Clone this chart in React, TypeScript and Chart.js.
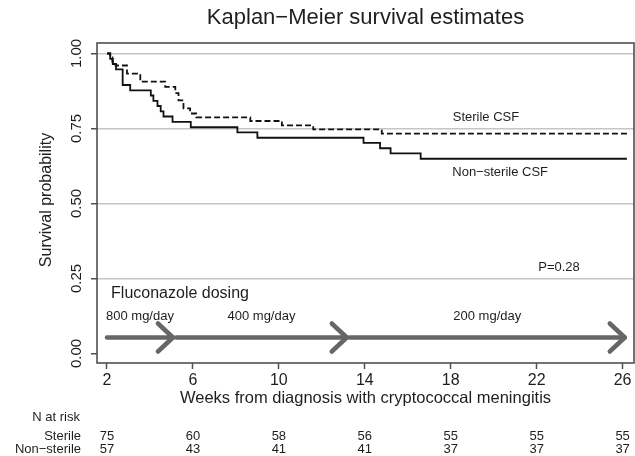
import React, { useEffect, useRef } from "react";
import { Chart, registerables } from "chart.js";

Chart.register(...registerables);

const TITLE = "Kaplan\u2212Meier survival estimates";
const X_TITLE = "Weeks from diagnosis with cryptococcal meningitis";
const Y_TITLE = "Survival probability";

const xTickValues = [2, 6, 10, 14, 18, 22, 26];
const xTickLabels = ["2", "6", "10", "14", "18", "22", "26"];
const yTickValues = [0, 0.25, 0.5, 0.75, 1];
const yTickLabels = ["0.00", "0.25", "0.50", "0.75", "1.00"];

// Sterile CSF (dashed)
const sterileWeeks = [2, 2.15, 2.25, 2.4, 2.93, 3.55, 4.71, 5.18, 5.33, 5.56, 5.87, 6.15, 8.67, 10.14, 11.6, 14.79, 26.2];
const sterileSurv = [1, 0.987, 0.973, 0.96, 0.933, 0.906, 0.889, 0.868, 0.844, 0.817, 0.8, 0.787, 0.775, 0.76, 0.747, 0.733, 0.733];

// Non-sterile CSF (solid)
const nonSterileWeeks = [2, 2.15, 2.27, 2.42, 2.73, 3.08, 4.04, 4.16, 4.35, 4.5, 4.63, 5.05, 5.9, 8.07, 9.0, 13.94, 14.71, 15.2, 16.6, 26.2];
const nonSterileSurv = [1, 0.982, 0.965, 0.947, 0.895, 0.877, 0.86, 0.842, 0.825, 0.807, 0.79, 0.772, 0.754, 0.737, 0.719, 0.702, 0.684, 0.667, 0.649, 0.649];

// Fluconazole dosing arrows
const doseStarts = [2, 5.22, 13.3];
const doseEnds = [5.07, 13.16, 26.1];
const doseLabels = ["800 mg/day", "400 mg/day", "200 mg/day"];
const doseLevel = 0.053;
const doseLabelLevel = 0.122;

// N at risk
const riskWeeks = [2, 6, 10, 14, 18, 22, 26];
const sterileAtRisk = [75, 60, 58, 56, 55, 55, 55];
const nonSterileAtRisk = [57, 43, 41, 41, 37, 37, 37];

const FONT = "'Liberation Sans', Arial, Helvetica, sans-serif";
const TEXT = "#1e1e1e";

const decor = {
  id: "kmDecor",
  afterDraw(chart: any) {
    const { ctx, chartArea: ca } = chart;
    const x = chart.scales.x;
    const y = chart.scales.y;
    ctx.save();

    // frame
    ctx.strokeStyle = "#505050";
    ctx.lineWidth = 1.6;
    ctx.strokeRect(ca.left, ca.top, ca.right - ca.left, ca.bottom - ca.top);

    ctx.fillStyle = TEXT;
    ctx.textBaseline = "middle";

    // title
    ctx.font = `22px ${FONT}`;
    ctx.textAlign = "center";
    ctx.fillText(TITLE, (ca.left + ca.right) / 2, 18);

    // x tick labels
    ctx.font = `16px ${FONT}`;
    xTickValues.forEach((v, i) => {
      ctx.fillText(xTickLabels[i], x.getPixelForValue(v), ca.bottom + 18);
    });

    // x title
    ctx.font = `16.5px ${FONT}`;
    ctx.fillText(X_TITLE, (ca.left + ca.right) / 2, ca.bottom + 35);

    // y tick labels (rotated)
    ctx.font = `15px ${FONT}`;
    yTickValues.forEach((v, i) => {
      ctx.save();
      ctx.translate(ca.left - 20, y.getPixelForValue(v));
      ctx.rotate(-Math.PI / 2);
      ctx.fillText(yTickLabels[i], 0, 0);
      ctx.restore();
    });

    // y title
    ctx.save();
    ctx.font = `16px ${FONT}`;
    ctx.translate(ca.left - 50, (ca.top + ca.bottom) / 2 - 3);
    ctx.rotate(-Math.PI / 2);
    ctx.fillText(Y_TITLE, 0, 0);
    ctx.restore();

    // curve labels
    ctx.font = `13px ${FONT}`;
    ctx.fillText("Sterile CSF", x.getPixelForValue(19.64), y.getPixelForValue(0.788));
    ctx.fillText("Non\u2212sterile CSF", x.getPixelForValue(20.3), y.getPixelForValue(0.604));
    ctx.fillText("P=0.28", x.getPixelForValue(23.04), y.getPixelForValue(0.288));

    // dosing
    ctx.font = `16px ${FONT}`;
    ctx.textAlign = "left";
    ctx.fillText("Fluconazole dosing", x.getPixelForValue(2.19), y.getPixelForValue(0.198));

    ctx.font = `13px ${FONT}`;
    ctx.textAlign = "center";
    doseLabels.forEach((lab, i) => {
      const cx = (x.getPixelForValue(doseStarts[i]) + x.getPixelForValue(doseEnds[i])) / 2;
      ctx.fillText(lab, cx, y.getPixelForValue(doseLabelLevel));
    });

    ctx.strokeStyle = "#666666";
    ctx.lineWidth = 4.5;
    ctx.lineCap = "round";
    ctx.lineJoin = "round";
    const py = y.getPixelForValue(doseLevel);
    doseStarts.forEach((s, i) => {
      const x0 = x.getPixelForValue(s);
      const x1 = x.getPixelForValue(doseEnds[i]);
      ctx.beginPath();
      ctx.moveTo(x0, py);
      ctx.lineTo(x1, py);
      ctx.stroke();
      ctx.beginPath();
      ctx.moveTo(x1 - 15, py - 14);
      ctx.lineTo(x1, py);
      ctx.lineTo(x1 - 15, py + 14);
      ctx.stroke();
    });

    // N at risk table
    ctx.fillStyle = TEXT;
    ctx.font = `13px ${FONT}`;
    ctx.textAlign = "right";
    ctx.fillText("N at risk", 80, 417);
    ctx.fillText("Sterile", 81, 436);
    ctx.fillText("Non\u2212sterile", 81, 449);
    ctx.textAlign = "center";
    riskWeeks.forEach((w, i) => {
      const px = x.getPixelForValue(w);
      ctx.fillText(String(sterileAtRisk[i]), px, 436);
      ctx.fillText(String(nonSterileAtRisk[i]), px, 449);
    });

    ctx.restore();
  },
};

export default function App() {
  const ref = useRef<HTMLCanvasElement | null>(null);

  useEffect(() => {
    if (!ref.current) return;
    const chart = new Chart(ref.current, {
      type: "line",
      data: {
        datasets: [
          {
            label: "Sterile CSF",
            data: sterileWeeks.map((w, i) => ({ x: w, y: sterileSurv[i] })),
            borderColor: "#111111",
            borderWidth: 1.8,
            borderDash: [6, 3],
            stepped: "before",
            pointRadius: 0,
            fill: false,
          },
          {
            label: "Non-sterile CSF",
            data: nonSterileWeeks.map((w, i) => ({ x: w, y: nonSterileSurv[i] })),
            borderColor: "#111111",
            borderWidth: 1.8,
            stepped: "before",
            pointRadius: 0,
            fill: false,
          },
        ],
      },
      plugins: [decor],
      options: {
        animation: false,
        responsive: false,
        devicePixelRatio: 1,
        layout: { padding: { top: 43, right: 1, left: 0, bottom: 0 } },
        plugins: { legend: { display: false }, tooltip: { enabled: false }, title: { display: false } },
        scales: {
          x: {
            type: "linear",
            min: 1.535,
            max: 26.53,
            afterBuildTicks: (s: any) => {
              s.ticks = xTickValues.map((v) => ({ value: v }));
            },
            afterFit: (s: any) => {
              s.height = 93;
              s.paddingLeft = 0;
              s.paddingRight = 0;
            },
            ticks: { display: false },
            border: { display: false },
            grid: {
              drawOnChartArea: false,
              drawTicks: true,
              tickLength: 6,
              tickColor: "#505050",
              tickWidth: 1.5,
            },
          },
          y: {
            type: "linear",
            min: -0.032,
            max: 1.035,
            afterBuildTicks: (s: any) => {
              s.ticks = yTickValues.map((v) => ({ value: v }));
            },
            afterFit: (s: any) => {
              s.width = 97;
              s.paddingTop = 0;
              s.paddingBottom = 0;
            },
            ticks: { display: false },
            border: { display: false },
            grid: {
              color: (c: any) => (c.tick && c.tick.value === 0 ? "rgba(0,0,0,0)" : "#c6c6c6"),
              lineWidth: 1.5,
              drawTicks: true,
              tickLength: 6,
              tickColor: "#505050",
              tickWidth: 1.5,
            },
          },
        },
      },
    } as any);
    return () => chart.destroy();
  }, []);

  return (
    <div style={{ position: "fixed", left: 0, top: 0, width: 635, height: 456, background: "#fff" }}>
      <canvas ref={ref} width={635} height={456} style={{ width: 635, height: 456, display: "block" }} />
    </div>
  );
}
